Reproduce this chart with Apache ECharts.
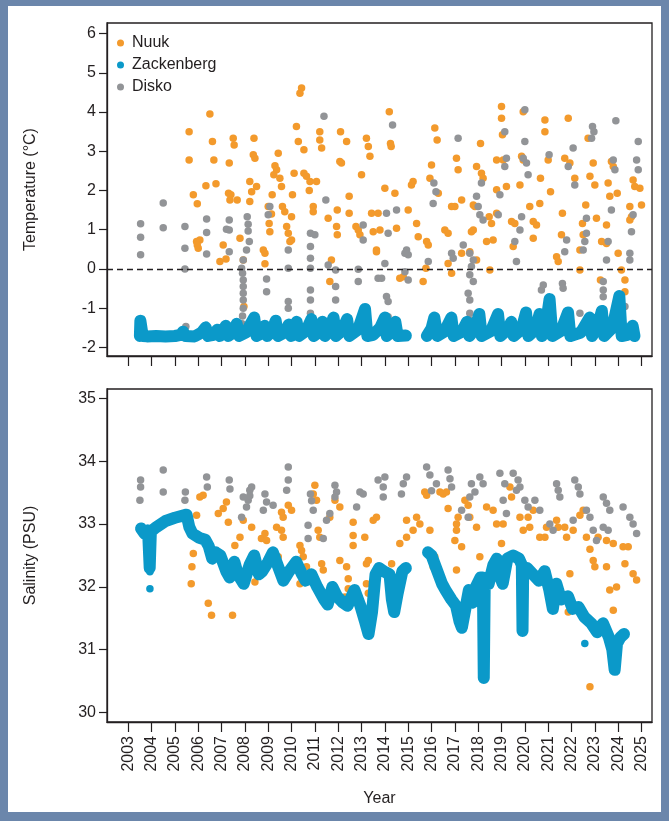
<!DOCTYPE html>
<html>
<head>
<meta charset="utf-8">
<script src="https://cdn.jsdelivr.net/npm/echarts@6/dist/echarts.min.js"></script>
<style>
  html, body { margin: 0; padding: 0; }
  body { width: 669px; height: 821px; background: #6b86ab; position: relative; overflow: hidden; }
  #card { position: absolute; left: 8px; top: 6px; width: 653px; height: 806px; background: #ffffff; }
  #chart { position: absolute; left: 0; top: 0; width: 669px; height: 821px; }
</style>
</head>
<body>
<div id="card"></div>
<div id="chart"></div>
<script>
// Year ticks shared by both panels
const years = [2003, 2004, 2005, 2006, 2007, 2008, 2009, 2010, 2011, 2012, 2013, 2014,
               2015, 2016, 2017, 2018, 2019, 2020, 2021, 2022, 2023, 2024, 2025];
const tempTicks = [-2, -1, 0, 1, 2, 3, 4, 5, 6];
const salTicks = [30, 31, 32, 33, 34, 35];

// Nuuk: [decimal year, temperature °C]
const nuukTemp = [
  [2005.61,3.50],[2005.61,2.78],[2005.79,1.89],[2005.96,1.66],[2005.93,0.70],[2006.07,0.74],[2006.00,0.53],[2005.96,0.61],
  [2006.50,3.95],[2006.61,3.25],[2006.67,2.78],[2006.33,2.12],[2006.76,2.17],[2006.93,0.19],[2007.07,0.61],[2007.19,0.25],
  [2007.33,2.70],[2007.50,3.33],[2007.54,3.16],[2007.30,1.93],[2007.36,1.76],[2007.40,1.89],[2007.67,1.76],[2007.79,0.78],[2007.93,0.23],[2007.96,-0.96],
  [2008.39,3.33],[2008.36,2.91],[2008.43,2.82],[2008.21,2.23],[2008.50,2.10],[2008.29,1.97],[2008.21,1.72],[2008.79,0.48],[2008.86,0.40],[2008.86,0.13],
  [2009.43,2.95],[2009.29,2.63],[2009.36,2.53],[2009.24,2.40],[2009.50,2.31],[2009.57,2.10],[2009.17,1.89],[2009.00,1.59],[2009.14,1.40],[2009.04,1.16],[2009.07,0.95],
  [2009.61,1.59],[2009.71,1.46],[2010.00,1.33],[2009.79,1.08],[2009.86,0.91],[2009.93,0.70],[2010.00,0.74],[2010.04,1.89],
  [2010.21,3.63],[2010.43,4.61],[2010.36,4.48],[2010.29,3.25],[2010.53,3.04],[2010.11,2.44],[2010.53,2.44],[2010.64,2.36],[2010.79,2.23],[2011.07,2.23],[2010.76,2.00],[2010.93,1.59],[2010.93,1.46],
  [2011.21,3.50],[2011.21,3.29],[2011.29,3.08],[2011.57,1.29],[2011.71,0.23],[2011.64,-0.32],[2011.96,1.50],[2011.93,1.08],[2011.96,0.87],
  [2012.10,3.50],[2012.07,2.74],[2012.14,2.70],[2012.36,3.25],[2012.47,1.85],[2012.47,1.42],[2012.76,1.08],[2012.86,0.99],[2012.93,0.87],
  [2013.21,3.33],[2013.29,3.12],[2013.36,2.87],[2013.00,2.40],[2013.43,1.42],[2013.50,0.95],[2013.64,0.48],
  [2014.19,4.01],[2014.27,3.12],[2014.24,3.20],[2014.00,2.06],[2014.43,1.93],[2013.71,1.42],[2013.79,0.99],[2013.64,0.44],[2014.50,1.04],[2015.00,1.50],
  [2015.21,2.23],[2015.14,2.14],[2015.36,1.16],[2015.43,0.82],[2015.79,0.70],[2015.86,0.61],[2015.76,0.02],[2015.64,-0.32],[2014.79,-0.20],[2014.64,-0.24],
  [2016.14,3.59],[2016.24,3.29],[2016.00,2.65],[2015.93,2.31],[2016.29,1.93],[2016.57,0.99],[2016.71,0.91],[2016.86,1.59],[2017.29,1.76],[2016.71,0.14],[2016.86,-0.11],
  [2017.07,2.82],[2017.14,2.53],[2017.00,1.59],[2017.29,0.40],[2017.79,1.63],[2017.86,1.59],[2017.71,0.95],[2017.79,0.99],[2017.64,0.44],[2017.93,0.23],
  [2017.93,2.61],[2018.14,2.44],[2018.21,2.31],[2018.10,3.20],[2018.47,1.33],[2018.57,1.16],[2018.79,1.42],[2018.50,-0.03],[2018.36,0.70],[2018.64,0.74],[2018.79,2.02],[2018.79,2.78],[2019.07,2.78],
  [2019.00,4.14],[2019.00,3.84],[2019.04,3.42],[2019.21,2.10],[2019.43,1.21],[2019.57,1.16],[2019.50,0.57],[2019.79,2.14],[2019.86,2.87],[2019.93,2.78],[2019.93,4.01],
  [2020.21,1.59],[2020.36,1.21],[2020.50,1.12],[2020.36,0.78],[2020.64,1.67],[2020.67,2.31],[2020.86,3.80],[2020.86,3.50],[2021.00,2.78],[2021.10,1.97],
  [2021.36,0.31],[2021.43,0.19],[2021.61,1.42],[2021.57,0.87],[2021.86,3.84],[2021.71,2.82],[2021.93,2.70],
  [2022.14,2.31],[2022.36,-0.03],[2022.47,1.16],[2022.50,0.87],[2022.36,0.48],[2022.61,1.63],[2022.71,3.33],[2022.79,2.36],[2022.93,2.70],[2023.00,2.14],
  [2023.07,1.29],[2023.29,0.70],[2023.50,0.65],[2023.24,-0.28],[2023.50,1.12],[2023.57,2.19],[2023.64,1.85],[2023.79,2.61],[2023.71,2.74],[2023.96,1.93],
  [2024.00,0.40],[2024.14,-0.03],[2024.29,-0.28],[2024.29,-0.58],[2024.50,1.25],[2024.57,1.33],[2024.71,2.10],[2024.64,2.27],[2024.93,2.06],[2025.00,1.63],[2024.50,1.59]
];

// Disko: [decimal year, temperature °C]
const diskoTemp = [
  [2003.53,1.15],[2003.53,0.81],[2003.53,0.36],[2004.50,1.68],[2004.50,1.05],[2005.43,1.08],[2005.43,0.53],[2005.43,0.00],[2005.47,-1.47],
  [2006.36,1.27],[2006.36,0.93],[2006.36,0.38],[2007.33,1.25],[2007.21,1.01],[2007.33,0.99],[2007.33,0.44],
  [2008.10,1.33],[2008.14,1.14],[2008.14,0.97],[2008.19,0.70],[2008.07,0.48],[2007.93,0.23],[2007.86,0.02],[2007.90,-0.11],[2007.93,-0.28],
  [2007.93,-0.45],[2007.93,-0.62],[2007.93,-0.79],[2007.93,-1.00],[2007.90,-1.20],[2007.88,-1.40],[2007.86,-1.62],
  [2008.93,-0.26],[2008.93,-0.58],[2009.07,1.59],[2009.00,1.38],[2008.86,-1.51],
  [2009.86,0.48],[2009.86,0.02],[2009.86,-0.83],[2009.86,-1.00],
  [2010.81,0.91],[2010.81,0.57],[2010.81,0.27],[2010.81,0.02],[2010.81,-0.54],[2010.81,-0.79],[2010.81,-1.13],[2011.00,0.87],
  [2011.39,3.89],[2011.47,1.76],[2011.57,0.10],[2011.89,-0.03],[2011.89,-0.45],[2011.89,-0.79],
  [2012.86,-0.01],[2012.86,-0.32],[2013.07,1.12],[2013.07,0.74],[2013.71,-0.24],
  [2014.33,3.67],[2014.07,1.42],[2014.14,0.91],[2014.50,1.50],[2014.93,0.48],[2015.00,0.36],[2014.86,0.40],[2014.00,0.14],[2013.86,-0.24],
  [2014.86,-0.07],[2015.00,-0.28],[2014.07,-0.70],[2014.14,-0.83],[2014.14,-1.22],
  [2015.86,0.19],[2016.10,2.19],[2016.19,1.97],[2016.07,1.67],[2016.86,0.40],[2016.93,0.27],[2017.14,3.33],[2017.36,0.61],
  [2017.64,0.40],[2017.79,0.23],[2017.71,0.06],[2017.64,-0.15],[2017.79,-0.32],[2017.57,-0.62],[2017.64,-0.79],[2017.64,-1.13],[2017.67,-1.30],[2017.67,-1.50],
  [2017.93,1.85],[2018.00,1.59],[2018.07,1.38],[2018.14,2.19],[2018.21,1.25],[2018.86,1.38],[2018.93,1.89],
  [2019.14,3.50],[2019.21,2.82],[2019.14,2.61],[2019.57,0.70],[2019.64,0.19],[2019.86,1.33],[2020.00,4.06],[2020.00,3.25],[2019.93,2.82],[2020.07,2.70],[2020.14,2.40],[2019.79,0.99],
  [2020.71,-0.54],[2020.79,-0.41],[2021.04,2.91],[2021.61,-0.37],[2021.64,-0.49],[2021.50,-1.64],[2021.79,0.74],[2021.71,0.44],[2022.07,3.08],[2021.86,2.61],[2022.14,2.14],[2022.36,-1.13],
  [2022.64,0.91],[2022.57,0.70],[2022.50,0.48],[2022.90,3.63],[2022.96,3.50],[2022.86,3.33],[2022.64,1.29],[2023.36,-0.32],[2023.36,-0.54],[2023.36,-0.71],
  [2023.50,0.23],[2023.57,0.70],[2023.90,3.78],[2023.71,1.50],[2023.79,2.78],[2023.86,2.53],
  [2024.29,-0.96],[2024.50,0.40],[2024.50,0.23],[2024.57,0.95],[2024.64,1.38],[2024.86,3.25],[2024.79,2.78],[2024.86,2.53]
];

// Zackenberg mooring temperature record: [decimal year, °C], null marks the data gap
const zackTemp = [
  [2003.50,-1.71],[2003.52,-1.32],[2003.58,-1.32],[2003.62,-1.71],[2003.80,-1.72],[2004.20,-1.71],[2004.60,-1.72],[2005.00,-1.71],
  [2005.25,-1.68],[2005.35,-1.60],[2005.45,-1.71],[2005.85,-1.72],
  [2006.15,-1.62],[2006.32,-1.49],[2006.42,-1.71],
  [2006.65,-1.68],[2006.82,-1.55],[2006.92,-1.71],
  [2007.05,-1.62],[2007.18,-1.45],[2007.28,-1.71],
  [2007.50,-1.62],[2007.65,-1.40],[2007.75,-1.71],
  [2008.05,-1.62],[2008.25,-1.40],[2008.40,-1.24],[2008.50,-1.71],
  [2008.70,-1.65],[2008.85,-1.45],[2008.95,-1.71],
  [2009.15,-1.60],[2009.32,-1.32],[2009.42,-1.71],
  [2009.70,-1.62],[2009.88,-1.42],[2009.98,-1.71],
  [2010.10,-1.58],[2010.22,-1.35],[2010.32,-1.71],
  [2010.62,-1.58],[2010.85,-1.28],[2010.95,-1.71],
  [2011.15,-1.62],[2011.33,-1.35],[2011.43,-1.71],
  [2011.60,-1.58],[2011.80,-1.24],[2011.90,-1.71],
  [2012.15,-1.58],[2012.38,-1.28],[2012.48,-1.71],
  [2012.85,-1.55],[2013.15,-1.02],[2013.25,-1.71],
  [2013.50,-1.68],[2013.80,-1.50],[2014.00,-1.24],[2014.08,-1.71],
  [2014.30,-1.60],[2014.45,-1.35],[2014.55,-1.71],[2014.90,-1.70],
  [2015.30,null],
  [2015.80,-1.71],[2016.00,-1.52],[2016.12,-1.24],[2016.25,-1.71],
  [2016.55,-1.60],[2016.85,-1.24],[2016.95,-1.71],
  [2017.30,-1.60],[2017.52,-1.35],[2017.62,-1.71],
  [2017.85,-1.55],[2018.05,-1.15],[2018.15,-1.71],
  [2018.55,-1.58],[2018.85,-1.15],[2018.95,-1.71],
  [2019.25,-1.55],[2019.42,-1.35],[2019.52,-1.71],
  [2019.85,-1.55],[2020.05,-1.11],[2020.15,-1.71],
  [2020.45,-1.55],[2020.63,-1.15],[2020.73,-1.71],
  [2020.92,-1.35],[2021.06,-0.77],[2021.18,-1.71],
  [2021.55,-1.58],[2021.85,-1.11],[2021.95,-1.71],
  [2022.40,-1.62],[2022.78,-1.24],[2022.88,-1.71],
  [2023.10,-1.50],[2023.30,-1.07],[2023.40,-1.71],
  [2023.75,-1.50],[2024.05,-0.69],[2024.15,-1.71],
  [2024.40,-1.68],[2024.62,-1.45],[2024.70,-1.71]
];

// Nuuk: [decimal year, salinity PSU]
const nuukSal = [
  [2005.70,32.05],[2005.73,32.32],[2005.79,32.53],[2005.90,32.82],[2005.93,33.14],[2006.07,33.43],[2006.21,33.46],
  [2006.86,33.17],[2007.07,33.25],[2007.21,33.35],[2007.29,33.03],[2006.71,32.53],[2006.43,31.74],[2006.57,31.55],[2007.47,31.55],
  [2007.50,32.34],[2007.57,32.66],[2007.79,32.79],[2007.93,33.06],[2008.29,32.95],
  [2008.36,32.34],[2008.43,32.08],[2008.50,32.29],[2008.71,32.77],[2008.86,32.85],[2008.93,32.74],[2009.36,32.95],[2009.57,32.90],
  [2009.64,32.79],[2009.43,32.48],[2009.43,32.32],[2009.64,33.11],[2009.57,33.19],[2009.86,33.30],[2010.00,33.22],
  [2010.36,32.66],[2010.43,32.58],[2010.50,32.48],[2010.64,32.32],[2010.36,32.05],[2011.00,33.62],[2010.93,33.48],[2011.07,33.38],
  [2011.14,32.90],[2011.21,32.79],[2011.29,32.37],[2011.36,32.27],[2011.64,33.11],[2011.86,33.38],[2012.07,33.27],
  [2012.07,32.42],[2012.36,32.32],[2012.43,32.13],[2012.43,31.97],[2012.29,31.84],[2012.64,33.03],[2012.64,32.82],[2012.64,32.66],
  [2013.14,32.79],[2013.21,32.37],[2013.29,32.42],[2013.21,32.05],[2013.29,31.90],[2013.50,33.06],[2013.64,33.11],
  [2014.00,32.27],[2014.21,32.21],[2014.29,32.37],[2014.64,32.69],[2014.93,33.06],[2014.93,32.79],[2015.21,32.90],[2015.50,33.00],
  [2015.36,33.11],[2015.71,33.51],[2015.79,33.46],[2016.07,32.32],[2015.93,32.90],[2016.14,32.48],
  [2016.36,33.51],[2016.50,33.48],[2016.64,33.51],[2016.71,33.25],[2017.07,33.00],[2017.07,32.90],[2017.14,33.11],[2017.00,32.74],
  [2017.29,32.64],[2017.07,32.27],[2017.43,33.38],[2017.57,33.30],[2017.64,33.11],[2017.93,32.95],[2018.07,32.48],
  [2018.36,33.27],[2018.64,33.22],[2019.00,32.69],[2019.14,32.37],[2019.07,32.21],[2018.79,33.00],[2019.07,33.00],[2019.36,33.59],
  [2019.43,33.43],[2019.79,33.11],[2019.93,32.90],[2020.14,33.11],[2020.21,32.95],[2020.36,33.22],
  [2020.64,32.79],[2020.86,32.79],[2020.93,32.95],[2021.36,33.06],[2021.43,32.95],[2021.71,32.95],[2021.79,32.79],[2021.93,32.21],
  [2021.86,31.60],[2022.07,32.90],[2022.36,33.14],[2022.50,33.22],[2022.64,32.79],[2022.79,32.60],[2022.93,32.42],[2023.00,32.32],[2022.79,30.41],
  [2023.14,32.79],[2023.50,32.74],[2023.79,32.69],[2023.50,32.32],[2023.64,31.95],[2023.93,32.00],[2023.79,31.63],[2023.79,30.99],
  [2024.21,32.64],[2024.43,32.64],[2024.64,32.21],[2024.79,32.11],[2024.29,32.37]
];

// Disko: [decimal year, salinity PSU]
const diskoSal = [
  [2003.53,33.70],[2003.53,33.59],[2003.50,33.38],[2004.50,33.86],[2004.50,33.51],[2005.45,33.51],[2005.43,33.38],[2006.36,33.75],
  [2006.39,33.59],[2007.33,33.70],[2007.36,33.56],
  [2007.93,33.43],[2008.07,33.27],[2008.21,33.54],[2008.29,33.59],[2007.86,33.11],[2008.14,33.38],[2008.21,33.45],
  [2008.86,33.48],[2008.93,33.35],[2008.79,33.22],[2009.21,33.30],[2009.86,33.91],[2009.86,33.70],[2009.79,33.54],
  [2010.71,32.98],[2011.36,32.77],[2010.71,32.77],[2010.81,33.48],[2010.86,33.37],[2010.93,33.22],[2011.50,33.06],[2011.64,33.17],
  [2011.86,33.62],[2011.93,33.51],[2011.86,33.43],
  [2012.93,33.51],[2013.07,33.48],[2012.79,33.27],[2013.71,33.70],
  [2014.00,33.75],[2013.93,33.59],[2013.93,33.43],[2014.93,33.75],[2014.79,33.64],[2014.71,33.48],[2015.79,33.91],[2015.93,33.78],
  [2016.21,33.64],[2016.00,33.53],
  [2016.71,33.86],[2016.79,33.72],[2016.86,33.59],[2017.71,33.64],[2017.86,33.51],[2017.64,33.43],[2017.29,33.22],[2017.57,33.11],
  [2018.07,33.75],[2018.21,33.64],
  [2018.93,33.81],[2019.14,33.64],[2019.07,33.38],[2019.21,33.17],[2019.50,33.81],[2019.71,33.70],[2019.79,33.59],[2019.64,33.54],
  [2020.00,33.38],[2020.14,33.27],[2020.43,33.38],[2020.64,33.22],
  [2021.36,33.64],[2021.43,33.54],[2021.50,33.43],[2021.07,33.00],[2021.21,32.90],[2022.14,33.70],[2022.29,33.59],[2022.36,33.48],
  [2022.07,33.06],[2022.64,33.22],[2022.79,33.11],[2022.93,32.90],[2023.07,32.74],
  [2023.36,33.43],[2023.50,33.33],[2023.64,33.22],[2023.36,32.95],[2023.57,32.90],[2024.21,33.27],[2024.50,33.11],[2024.64,33.00],[2024.79,32.85]
];

// Zackenberg mooring salinity record: [decimal year, PSU], null marks the data gap
const zackSal = [
  [2003.55,32.93],[2003.70,32.85],[2003.85,32.90],[2003.92,32.30],[2003.97,32.88],[2004.20,32.95],[2004.60,33.05],[2005.00,33.10],
  [2005.50,33.15],[2005.62,32.95],[2005.75,32.85],[2006.05,32.78],[2006.30,32.75],[2006.45,32.65],[2006.60,32.45],[2006.75,32.55],
  [2006.95,32.50],[2007.20,32.25],[2007.35,32.15],[2007.55,32.40],[2007.70,32.20],[2007.95,32.05],[2008.20,32.35],[2008.40,32.50],
  [2008.60,32.20],[2008.75,32.25],[2009.00,32.40],[2009.20,32.55],[2009.45,32.30],[2009.65,32.10],[2009.90,32.25],[2010.20,32.40],
  [2010.45,32.20],[2010.60,32.10],[2010.85,32.20],[2011.10,32.00],[2011.40,31.80],[2011.55,31.72],[2011.75,32.00],[2011.95,31.85],
  [2012.20,31.75],[2012.40,31.70],[2012.70,31.95],[2012.95,31.70],[2013.15,31.45],[2013.30,31.25],[2013.45,31.60],[2013.60,32.20],
  [2013.75,32.30],[2013.95,32.25],[2014.20,32.20],[2014.30,31.80],[2014.40,31.60],[2014.55,31.90],[2014.75,32.25],[2014.90,32.30],
  [2015.30,null],
  [2015.85,32.55],[2016.00,32.50],[2016.20,32.30],[2016.45,32.05],[2016.60,31.95],[2016.85,31.80],[2017.05,31.70],[2017.20,31.45],
  [2017.30,31.35],[2017.45,31.65],[2017.60,31.95],[2017.75,31.75],[2017.90,32.00],[2018.10,32.15],[2018.20,32.15],[2018.24,30.55],
  [2018.28,32.05],[2018.45,32.05],[2018.65,32.35],[2018.80,32.45],[2018.95,32.15],[2019.05,32.05],[2019.25,32.45],[2019.50,32.50],
  [2019.75,32.45],[2019.87,32.35],[2019.90,31.30],[2019.93,32.30],[2020.10,32.30],[2020.35,32.20],[2020.60,32.10],[2020.85,32.25],
  [2021.05,31.95],[2021.20,31.65],[2021.35,32.05],[2021.55,31.80],[2021.85,31.85],[2022.05,31.65],[2022.30,31.68],[2022.55,31.52],
  [2022.85,31.42],[2023.10,31.28],[2023.35,31.42],[2023.60,31.20],[2023.75,31.00],[2023.85,30.68],[2023.95,31.10],[2024.10,31.20],[2024.25,31.25]
];
// Loose Zackenberg salinity readings away from the main record
const zackSalDots = [[2003.93,32.24],[2003.93,31.97],[2022.57,31.10]];

const colNuuk = '#f39a2c';
const colZack = '#0b99c9';
const colDisko = '#929497';
const ink = '#231f20';
const font = "'Liberation Sans', Arial, Helvetica, sans-serif";

const xMin = 2002.09, xMax = 2025.45;

function xAxisFor(gridIndex, withLabels) {
  return {
    type: 'value', gridIndex: gridIndex, min: xMin, max: xMax,
    splitLine: { show: false },
    axisLine: { show: true, onZero: false, lineStyle: { color: ink, width: 1.3 } },
    axisTick: { show: true, inside: false, length: 10, customValues: years, lineStyle: { color: ink, width: 1.2 } },
    axisLabel: withLabels ? {
      show: true, customValues: years, rotate: 90, margin: 14,
      fontFamily: font, fontSize: 16, color: ink, formatter: v => String(v)
    } : { show: false },
    name: withLabels ? 'Year' : '',
    nameLocation: 'middle', nameGap: 69,
    nameTextStyle: { fontFamily: font, fontSize: 16, color: ink }
  };
}

function yAxisFor(gridIndex, min, max, ticks, name) {
  return {
    type: 'value', gridIndex: gridIndex, min: min, max: max,
    splitLine: { show: false },
    axisLine: { show: true, onZero: false, lineStyle: { color: ink, width: 1.3 } },
    axisTick: { show: true, inside: false, length: 8, customValues: ticks, lineStyle: { color: ink, width: 1.2 } },
    axisLabel: { show: true, customValues: ticks, margin: 11, fontFamily: font, fontSize: 16, color: ink,
                 formatter: v => String(v) },
    name: name, nameLocation: 'middle', nameGap: 68,
    nameTextStyle: { fontFamily: font, fontSize: 16, color: ink }
  };
}

function dots(name, data, color, xi, yi) {
  return {
    name: name, type: 'scatter', xAxisIndex: xi, yAxisIndex: yi, data: data,
    symbol: 'circle', symbolSize: 7.5, itemStyle: { color: color, opacity: 1 }, silent: true
  };
}

function record(data, xi, yi, width) {
  return {
    name: 'Zackenberg', type: 'line', xAxisIndex: xi, yAxisIndex: yi, data: data,
    showSymbol: false, symbol: 'circle', connectNulls: false, silent: true,
    itemStyle: { color: colZack },
    lineStyle: { color: colZack, width: width, cap: 'round', join: 'round' }
  };
}

const tempRecord = record(zackTemp, 0, 0, 12);
tempRecord.markLine = {
  silent: true, symbol: ['none', 'none'], label: { show: false },
  lineStyle: { color: ink, type: [6, 4], width: 1.3 },
  data: [{ yAxis: 0 }]
};

const chart = echarts.init(document.getElementById('chart'), null, { renderer: 'canvas' });
chart.setOption({
  animation: false,
  backgroundColor: 'transparent',
  textStyle: { fontFamily: font },
  grid: [
    { left: 107, right: 17, top: 23, height: 333, show: true, borderColor: ink, borderWidth: 1.3, backgroundColor: 'transparent' },
    { left: 107, right: 17, top: 389, height: 333, show: true, borderColor: ink, borderWidth: 1.3, backgroundColor: 'transparent' }
  ],
  xAxis: [xAxisFor(0, false), xAxisFor(1, true)],
  yAxis: [
    yAxisFor(0, -2.22, 6.27, tempTicks, 'Temperature (°C)'),
    yAxisFor(1, 29.85, 35.15, salTicks, 'Salinity (PSU)')
  ],
  legend: {
    data: ['Nuuk', 'Zackenberg', 'Disko'],
    orient: 'vertical', left: 117, top: 35, itemGap: 6,
    icon: 'circle', itemWidth: 7, itemHeight: 7, selectedMode: false, padding: 0,
    textStyle: { fontFamily: font, fontSize: 16, color: ink, lineHeight: 16, padding: [0, 0, 0, 3] }
  },
  series: [
    tempRecord,
    dots('Nuuk', nuukTemp, colNuuk, 0, 0),
    dots('Disko', diskoTemp, colDisko, 0, 0),
    record(zackSal, 1, 1, 12),
    dots('Zackenberg', zackSalDots, colZack, 1, 1),
    dots('Nuuk', nuukSal, colNuuk, 1, 1),
    dots('Disko', diskoSal, colDisko, 1, 1)
  ]
});
</script>
</body>
</html>
